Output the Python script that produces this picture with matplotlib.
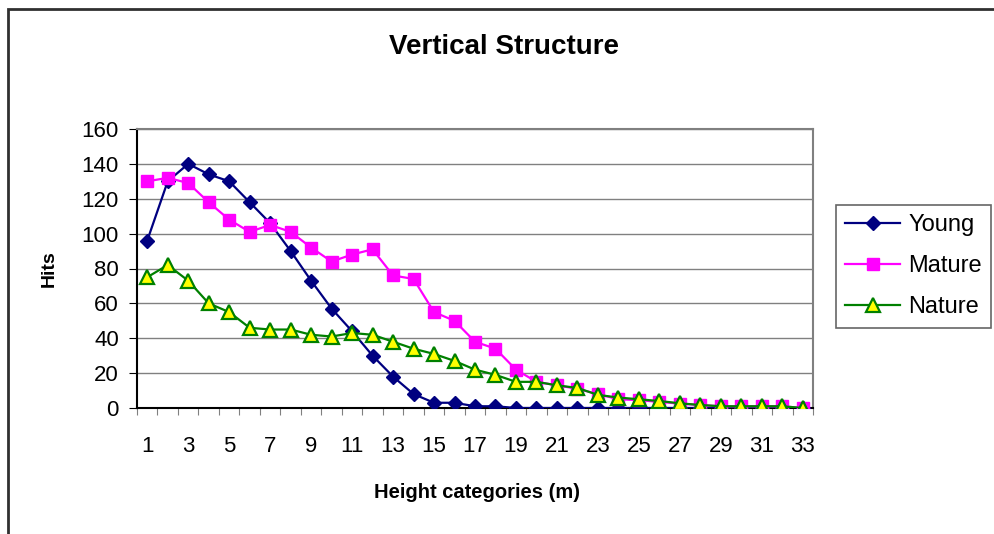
import matplotlib
matplotlib.use("Agg")
import matplotlib.pyplot as plt
from matplotlib.patches import Rectangle

plt.rcParams['font.family'] = ['Liberation Sans', 'DejaVu Sans']

heights = list(range(1, 34))
young = [96, 130, 140, 134, 130, 118, 106, 90, 73, 57, 44, 30, 18, 8, 3, 3, 1, 1, 0,
         0, 0, 0, 0, 0, 0, 0, 0, 0, 0, 0, 0, 0, 0]
mature = [130, 132, 129, 118, 108, 101, 105, 101, 92, 84, 88, 91, 76, 74, 55, 50, 38, 34, 22,
          15, 13, 11, 8, 5, 4.5, 3.5, 2.5, 1.7, 1, 1, 1, 1, 0]
nature = [75, 82, 73, 60, 55, 46, 45, 45, 42, 41, 43, 42, 38, 34, 31, 27, 22, 19, 15,
          15, 13, 11.5, 7.5, 6, 5, 4, 2.7, 1.7, 1, 1, 1, 1, 0]
y_ticks = list(range(0, 161, 20))
x_labels = [str(h) if h % 2 == 1 else "" for h in heights]

fig = plt.figure(figsize=(9.95, 5.34), dpi=100)
ax = fig.add_axes([137 / 995, 1 - 408 / 534, (813 - 137) / 995, (408 - 129) / 534])

ax.plot(heights, young, color='#000080', lw=1.6, marker='D', ms=7,
        mfc='#000080', mec='#000080', label='Young', zorder=3)
ax.plot(heights, mature, color='#FF00FF', lw=1.6, marker='s', ms=9,
        mfc='#FF00FF', mec='#FF00FF', label='Mature', zorder=4)
ax.plot(heights, nature, color='#008000', lw=1.6, marker='^', ms=10,
        mfc='#FFFF00', mec='#008000', mew=1.6, label='Nature', zorder=5)

ax.set_xlim(0.5, 33.5)
ax.set_ylim(0, 160)
ax.set_yticks(y_ticks)
ax.yaxis.grid(True, color='#808080', lw=1)
ax.set_axisbelow(True)

# category axis: ticks between categories, labels on every other one
ax.set_xticks([h + 0.5 for h in [0] + heights], minor=False)
ax.set_xticklabels([])
ax.set_xticks(heights, minor=True)
ax.set_xticklabels(x_labels, minor=True)
ax.tick_params(axis='x', which='minor', length=0, labelsize=16, pad=20)
ax.tick_params(axis='x', which='major', length=5, color='#808080', direction='out')
ax.tick_params(axis='y', length=6, labelsize=16, direction='out', pad=7)

ax.spines['left'].set_color('black')
ax.spines['bottom'].set_color('black')
ax.spines['top'].set_color('#808080')
ax.spines['right'].set_color('#808080')
for s in ax.spines.values():
    s.set_linewidth(1.5)

fig.text(504 / 995, 1 - 47 / 534, 'Vertical Structure', fontsize=20, fontweight='bold',
         ha='center', va='center')
fig.text(49 / 995, 1 - 269 / 534, 'Hits', fontsize=14, fontweight='bold',
         rotation=90, ha='center', va='center')
fig.text(477 / 995, 1 - 492 / 534, 'Height categories (m)', fontsize=14.5, fontweight='bold',
         ha='center', va='center')

leg = ax.legend(loc='upper left', bbox_to_anchor=(836 / 995, 1 - 205 / 534),
                bbox_transform=fig.transFigure, fontsize=17, frameon=True,
                fancybox=False, edgecolor='#404040', borderpad=0.4,
                handlelength=2.3, handletextpad=0.35, labelspacing=0.8, borderaxespad=0)
leg.get_frame().set_linewidth(1.2)

# outer chart border, running off the right and bottom edges
fig.patches.append(Rectangle((8 / 995, -0.1), 1.2, 1.1 - 9 / 534, transform=fig.transFigure,
                             fill=False, edgecolor='#303030', lw=2))

fig.savefig('out.png', dpi=100)
